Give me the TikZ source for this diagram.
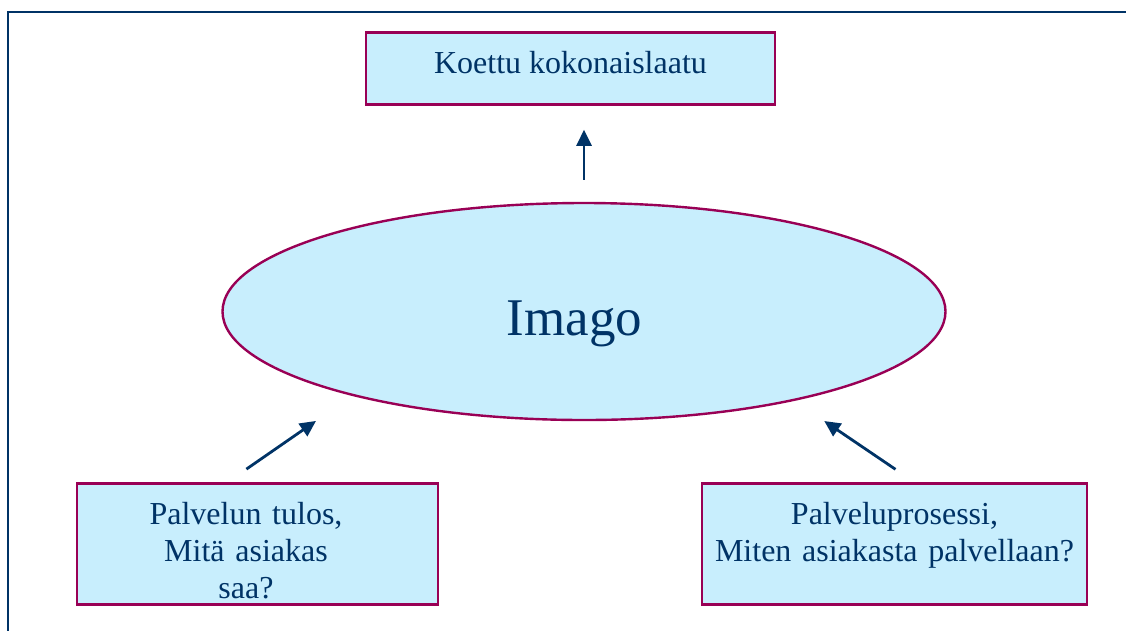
\documentclass[tikz,border=0pt]{standalone}
\usepackage{fontspec}
\setmainfont{Liberation Serif}
\usepackage{xcolor}
\usepackage{tikz}
\usetikzlibrary{arrows.meta,positioning,calc,shapes.geometric}
\definecolor{boxfill}{RGB}{200,238,253}
\definecolor{boxrim}{RGB}{153,0,85}
\definecolor{navy}{RGB}{0,51,102}
\tikzset{
  qualbox/.style={rectangle,draw=boxrim,fill=boxfill,line width=2.4pt,inner sep=0pt,
    text=navy,font=\fontsize{32}{37}\selectfont},
  imagoellipse/.style={ellipse,draw=boxrim,fill=boxfill,line width=2.4pt,inner sep=0pt,
    minimum width=723pt,minimum height=217pt,text=navy,font=\fontsize{53}{60}\selectfont},
  qualarrow/.style={-{Triangle[length=16pt,width=15pt]},line width=2.8pt,draw=navy},
  slideframe/.style={draw=navy,line width=2.4pt}
}

\begin{document}
\begin{tikzpicture}[x=1pt,y=1pt]
  \useasboundingbox (0,0) rectangle (1126,-630);
  \clip (0,0) rectangle (1126,-630);
  \draw[slideframe] (8,-12) rectangle (1140,-650);
  \node[imagoellipse,text height=48pt,text depth=0pt] (imago) at (584,-311.5) {Imago\hspace*{19pt}};
  \node[qualbox,above=96pt of imago,xshift=-13.5pt,minimum width=409pt,
    text height=41pt,text depth=31pt] (laatu) {Koettu kokonaislaatu};
  \node[qualbox,below=61pt of imago,xshift=-326.5pt,text width=361pt,align=center,
    text height=41pt,text depth=80pt] (tulos)
    {Palvelun tulos,\kern23pt\\ Mitä asiakas\kern23pt\\ saa?\kern23pt};
  \node[qualbox,below=61pt of imago,xshift=310.5pt,text width=385pt,align=center,
    text height=41pt,text depth=80pt] (prosessi) {Palveluprosessi,\\ Miten asiakasta palvellaan?};
  \draw[qualarrow,shorten <=22pt,shorten >=24pt] (imago.north) -- (imago.north |- laatu.south);
  \draw[qualarrow,shorten <=23pt,shorten >=44pt] ([xshift=-30pt]tulos.north) -- (imago.200);
  \draw[qualarrow,shorten <=23pt,shorten >=36pt] ([xshift=20pt]prosessi.north) -- (imago.337);
\end{tikzpicture}
\end{document}
